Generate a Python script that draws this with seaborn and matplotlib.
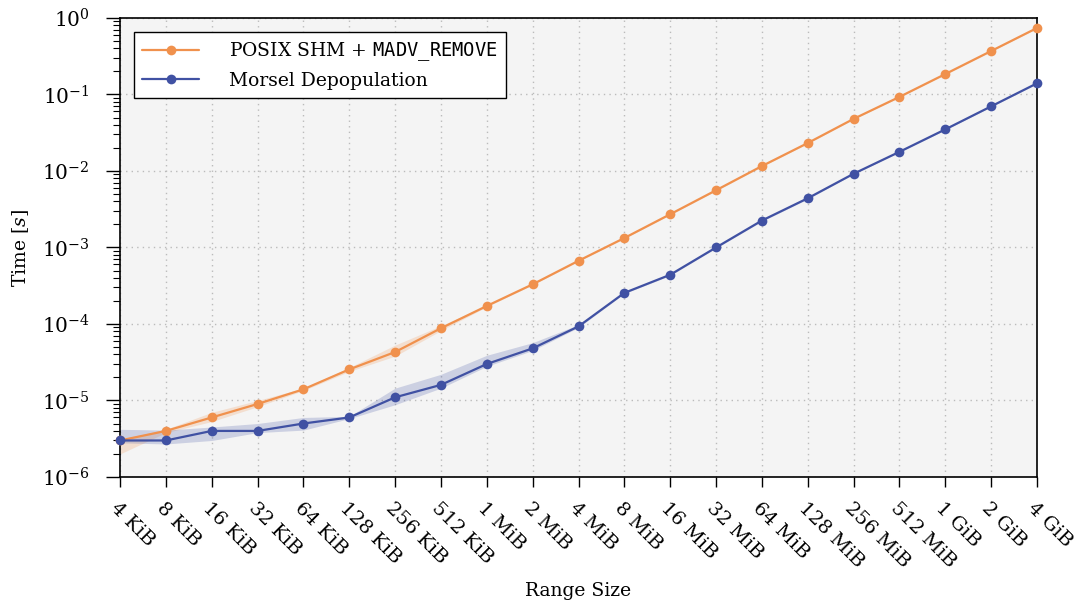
import matplotlib
matplotlib.use("Agg")
import matplotlib.pyplot as plt
import seaborn as sns
import pandas as pd
import numpy as np

sizes = ["4 KiB", "8 KiB", "16 KiB", "32 KiB", "64 KiB", "128 KiB", "256 KiB", "512 KiB",
         "1 MiB", "2 MiB", "4 MiB", "8 MiB", "16 MiB", "32 MiB", "64 MiB", "128 MiB",
         "256 MiB", "512 MiB", "1 GiB", "2 GiB", "4 GiB"]

posix_mean = [3.0e-6, 4.0e-6, 6.0e-6, 9.0e-6, 1.4e-5, 2.55e-5, 4.3e-5, 8.8e-5,
              1.72e-4, 3.3e-4, 6.7e-4, 1.33e-3, 2.72e-3, 5.6e-3, 1.16e-2, 2.32e-2,
              4.8e-2, 9.3e-2, 1.85e-1, 3.7e-1, 7.4e-1]
posix_lo = [2.0e-6, 3.8e-6, 5.3e-6, 8.3e-6, 1.35e-5, 2.4e-5, 3.8e-5, 8.2e-5,
            1.68e-4, 3.25e-4, 6.6e-4, 1.31e-3, 2.68e-3, 5.5e-3, 1.14e-2, 2.29e-2,
            4.75e-2, 9.2e-2, 1.83e-1, 3.66e-1, 7.3e-1]
posix_hi = [3.1e-6, 4.2e-6, 7.0e-6, 1.0e-5, 1.45e-5, 2.7e-5, 5.3e-5, 9.5e-5,
            1.76e-4, 3.35e-4, 6.8e-4, 1.35e-3, 2.76e-3, 5.7e-3, 1.18e-2, 2.35e-2,
            4.85e-2, 9.4e-2, 1.87e-1, 3.74e-1, 7.5e-1]

morsel_mean = [3.0e-6, 3.0e-6, 4.0e-6, 4.0e-6, 5.0e-6, 6.0e-6, 1.1e-5, 1.6e-5,
               3.0e-5, 4.8e-5, 9.3e-5, 2.55e-4, 4.4e-4, 1.0e-3, 2.25e-3, 4.4e-3,
               9.2e-3, 1.78e-2, 3.5e-2, 7.0e-2, 1.4e-1]
morsel_lo = [2.8e-6, 2.7e-6, 3.0e-6, 3.8e-6, 4.1e-6, 5.8e-6, 8.8e-6, 1.45e-5,
             2.8e-5, 4.5e-5, 9.0e-5, 2.5e-4, 4.3e-4, 9.8e-4, 2.2e-3, 4.3e-3,
             9.1e-3, 1.76e-2, 3.45e-2, 6.9e-2, 1.38e-1]
morsel_hi = [4.2e-6, 4.1e-6, 4.5e-6, 5.0e-6, 6.0e-6, 6.2e-6, 1.45e-5, 2.2e-5,
             3.9e-5, 5.7e-5, 9.8e-5, 2.6e-4, 4.5e-4, 1.02e-3, 2.3e-3, 4.5e-3,
             9.3e-3, 1.8e-2, 3.55e-2, 7.1e-2, 1.42e-1]

series_names = [r"POSIX SHM + $\mathtt{MADV\_REMOVE}$", "Morsel Depopulation"]
colors = ["#F0914D", "#4051A3"]

sns.set_style("ticks")
plt.rcParams["font.family"] = ["DejaVu Serif"]
plt.rcParams["mathtext.fontset"] = "dejavuserif"
plt.rcParams["text.color"] = "black"
plt.rcParams["axes.labelcolor"] = "black"
plt.rcParams["xtick.color"] = "black"
plt.rcParams["ytick.color"] = "black"

idx = list(range(len(sizes)))
df = pd.DataFrame({
    "idx": idx * 2,
    "time": posix_mean + morsel_mean,
    "series": [series_names[0]] * len(sizes) + [series_names[1]] * len(sizes),
})

fig = plt.figure(figsize=(10.91, 6.06), dpi=100)
ax = fig.add_axes([0.110, 0.2129, 0.8405, 0.7574])
ax.set_facecolor("#F4F4F4")

sns.lineplot(data=df, x="idx", y="time", hue="series", palette=colors,
             marker="o", markersize=7, markeredgewidth=0, linewidth=1.6,
             ax=ax, clip_on=False, zorder=3)

ax.fill_between(idx, posix_lo, posix_hi, color=colors[0], alpha=0.22, linewidth=0, zorder=2)
ax.fill_between(idx, morsel_lo, morsel_hi, color=colors[1], alpha=0.22, linewidth=0, zorder=2)

ax.set_yscale("log")
ax.set_ylim(1e-6, 1e0)
ax.set_xlim(0, len(sizes) - 1)
ax.set_xticks(idx)
ax.set_xticklabels(sizes, rotation=-45, ha="left", rotation_mode="anchor", fontsize=14)
ax.tick_params(axis="y", labelsize=14.5)
ax.tick_params(axis="y", which="major", direction="out", length=10, width=1, pad=12)
ax.tick_params(axis="y", which="minor", direction="out", length=5, width=0.8)
ax.tick_params(axis="x", which="major", direction="out", length=7, width=1, pad=9)

ax.grid(True, which="major", linestyle=(0, (1, 3)), color="#BBBBBB", linewidth=1)
ax.set_axisbelow(True)
for s in ax.spines.values():
    s.set_color("black")
    s.set_linewidth(1.2)

ax.set_xlabel("Range Size", fontsize=13.5, labelpad=8)
ax.set_ylabel(r"Time [$s$]", fontsize=13.5, labelpad=8)

leg = ax.legend(loc="upper left", fontsize=13.5, frameon=True, fancybox=False,
                edgecolor="black", framealpha=1, borderpad=0.45, handlelength=3,
                handletextpad=1.6, labelspacing=0.45, bbox_to_anchor=(0.005, 0.99))
leg.get_frame().set_linewidth(1.0)
leg.get_frame().set_facecolor("white")

fig.savefig("out.png", dpi=100)
